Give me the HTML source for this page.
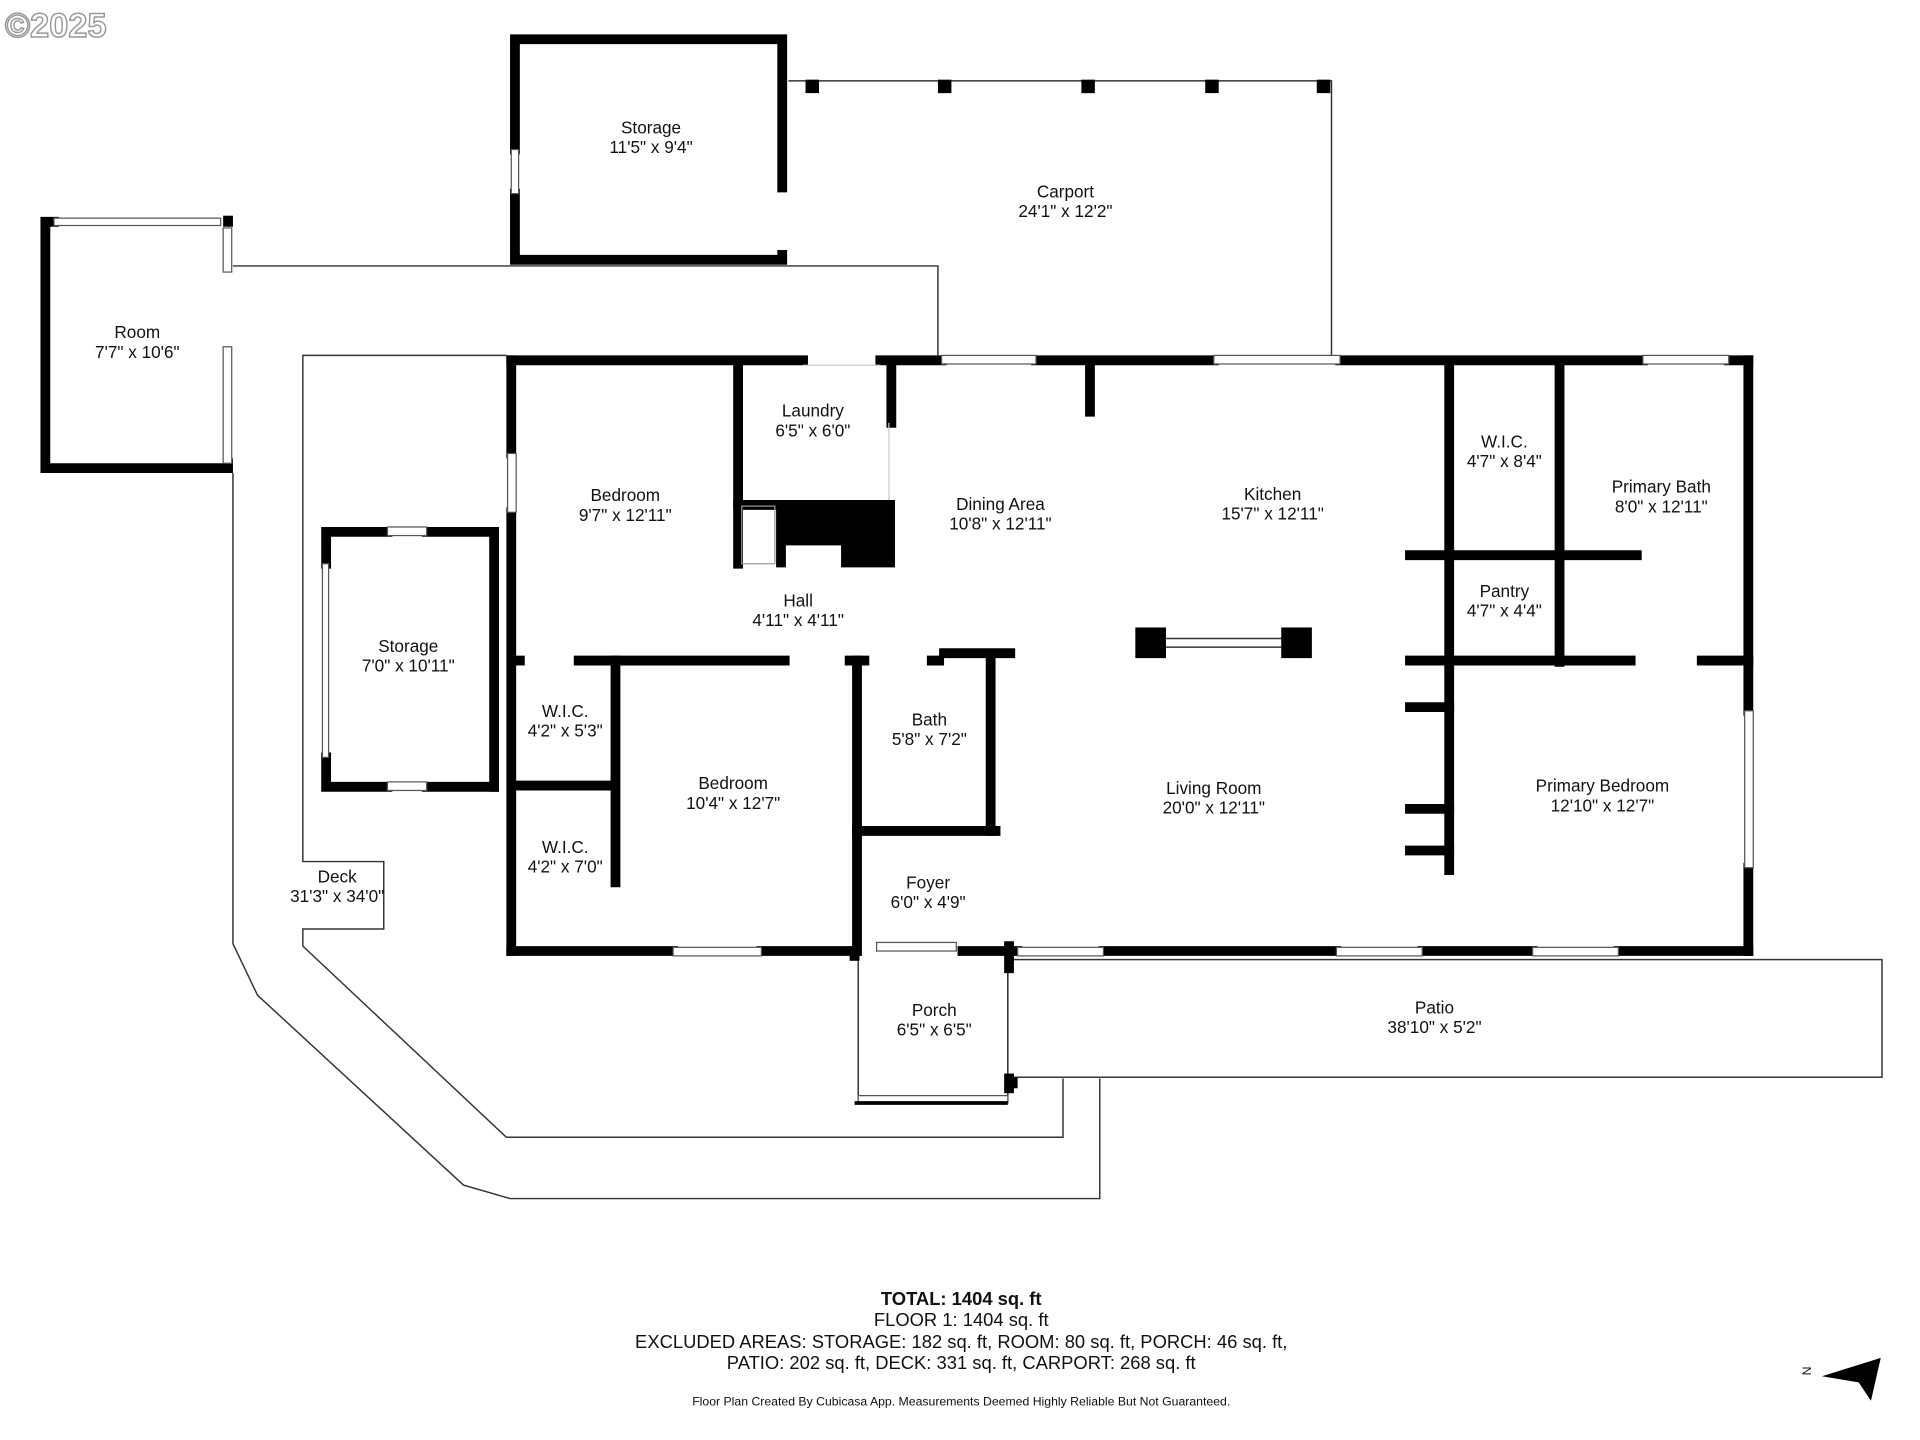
<!DOCTYPE html>
<html><head><meta charset="utf-8"><style>
html,body{margin:0;padding:0;background:#fff;}
svg{display:block;}
text{font-family:"Liberation Sans","DejaVu Sans",sans-serif;fill:#111;}
</style></head><body>
<svg width="1920" height="1440" viewBox="0 0 1566 1175" preserveAspectRatio="none" xmlns="http://www.w3.org/2000/svg">
<rect width="1566" height="1175" fill="#fff"/>
<text x="4" y="30" font-size="28" stroke="#999" stroke-width="1.2" font-weight="bold" style="fill:#fff">©2025</text>

<g fill="none" stroke="#333" stroke-width="1.2">
<polyline points="643,66 1086,66 1086,290"/>
<polyline points="190,217 765,217 765,290"/>
<polyline points="413,290 247,290 247,703 313,703 313,758 247,758 247,772 413,928 867,928 867,880"/>
<polyline points="190,386 190,770 210,812 378,967 416,978 897,978 897,880"/>
<rect x="822" y="783" width="713" height="96"/>
<polyline points="700,780 700,900"/>
<polyline points="822,780 822,900"/>
<line x1="951" y1="521" x2="1045" y2="521"/><line x1="951" y1="528" x2="1045" y2="528"/>
</g>
<g fill="#000">
<rect x="657" y="65" width="11" height="11"/><rect x="765" y="65" width="11" height="11"/><rect x="882" y="65" width="11" height="11"/><rect x="983" y="65" width="11" height="11"/><rect x="1074" y="65" width="11" height="11"/>
</g>

<g stroke="#000" stroke-width="8" fill="none" stroke-linecap="square">
<polyline points="638,153 638,32 420,32 420,122"/>
<polyline points="420,158 420,212 638,212 638,208"/>
<polyline points="44,181 37,181 37,382 186,382 186,378"/>
<line x1="186" y1="181" x2="186" y2="180"/>
<polyline points="266,460 266,434 316,434"/><line x1="348" y1="434" x2="403" y2="434"/>
<line x1="403" y1="434" x2="403" y2="642"/>
<polyline points="266,618 266,642 316,642"/><line x1="348" y1="642" x2="403" y2="642"/>
<line x1="417" y1="294" x2="655" y2="294"/>
<line x1="718" y1="294" x2="768" y2="294"/>
<line x1="845" y1="294" x2="990" y2="294"/>
<line x1="1093" y1="294" x2="1340" y2="294"/>
<line x1="1410" y1="294" x2="1426" y2="294"/>
<line x1="417" y1="294" x2="417" y2="370"/>
<line x1="417" y1="418" x2="417" y2="776"/>
<line x1="1426" y1="294" x2="1426" y2="580"/>
<line x1="1426" y1="708" x2="1426" y2="776"/>
<line x1="417" y1="776" x2="549" y2="776"/>
<line x1="621" y1="776" x2="697" y2="776"/>
<line x1="785" y1="776" x2="830" y2="776"/>
<line x1="900" y1="776" x2="1090" y2="776"/>
<line x1="1160" y1="776" x2="1250" y2="776"/>
<line x1="1320" y1="776" x2="1426" y2="776"/>
<line x1="602" y1="298" x2="602" y2="460"/>
<line x1="602" y1="412" x2="725" y2="412"/>
<line x1="727" y1="298" x2="727" y2="345"/>
<line x1="889" y1="298" x2="889" y2="336"/>
<line x1="420" y1="539" x2="424" y2="539"/>
<line x1="472" y1="539" x2="640" y2="539"/>
<line x1="693" y1="539" x2="705" y2="539"/>
<line x1="760" y1="539" x2="766" y2="539"/>
<line x1="770" y1="533" x2="824" y2="533"/>
<line x1="502" y1="539" x2="502" y2="720"/>
<line x1="420" y1="641" x2="500" y2="641"/>
<line x1="699" y1="539" x2="699" y2="776"/>
<line x1="808" y1="539" x2="808" y2="678"/>
<line x1="699" y1="678" x2="812" y2="678"/>
<line x1="1182" y1="298" x2="1182" y2="710"/>
<line x1="1150" y1="453" x2="1335" y2="453"/>
<line x1="1272" y1="298" x2="1272" y2="540"/>
<line x1="1150" y1="539" x2="1330" y2="539"/>
<line x1="1388" y1="539" x2="1426" y2="539"/>
<line x1="1150" y1="577" x2="1182" y2="577"/>
<line x1="1150" y1="660" x2="1182" y2="660"/>
<line x1="1150" y1="694" x2="1182" y2="694"/>
<line x1="697" y1="776" x2="697" y2="780"/>
<line x1="823" y1="772" x2="823" y2="790"/>
<line x1="823" y1="880" x2="823" y2="888"/>
</g>
<path d="M633,408 H730 V463 H686 V445 H641 V463 H633 Z" fill="#000"/>
<rect x="605" y="413" width="27" height="47" fill="none" stroke="#999" stroke-width="1"/>
<rect x="926" y="512" width="25" height="25" fill="#000"/>
<rect x="1045" y="512" width="25" height="25" fill="#000"/>
<g fill="#fff" stroke="#555" stroke-width="1">
<rect x="417" y="122" width="6" height="36"/>
<rect x="44" y="178" width="136" height="6"/>
<rect x="182" y="186" width="7" height="36"/>
<rect x="182" y="283" width="7" height="95"/>
<rect x="316" y="430" width="32" height="7"/>
<rect x="316" y="638" width="32" height="7"/>
<rect x="263" y="460" width="5" height="158"/>
<rect x="768" y="290" width="77" height="7"/>
<rect x="990" y="290" width="103" height="7"/>
<rect x="1340" y="290" width="70" height="7"/>
<rect x="414" y="370" width="7" height="48"/>
<rect x="1423" y="580" width="7" height="128"/>
<rect x="549" y="773" width="72" height="7"/>
<rect x="830" y="773" width="70" height="7"/>
<rect x="1090" y="773" width="70" height="7"/>
<rect x="1250" y="773" width="70" height="7"/>
<rect x="715" y="769" width="65" height="7"/>
<rect x="700" y="894" width="122" height="6"/>
</g>
<g stroke="#ccc" stroke-width="1">
<line x1="655" y1="298" x2="718" y2="298"/>
<line x1="725" y1="345" x2="725" y2="408"/>
</g>
<line x1="697" y1="900" x2="822" y2="900" stroke="#000" stroke-width="3"/>
<rect x="822" y="879" width="8" height="9" fill="#000"/>

<g font-size="14" text-anchor="middle">
<text x="531" y="109">Storage</text><text x="531" y="125">11'5" x 9'4"</text>
<text x="869" y="161">Carport</text><text x="869" y="177">24'1" x 12'2"</text>
<text x="112" y="276">Room</text><text x="112" y="292">7'7" x 10'6"</text>
<text x="663" y="340">Laundry</text><text x="663" y="356">6'5" x 6'0"</text>
<text x="510" y="409">Bedroom</text><text x="510" y="425">9'7" x 12'11"</text>
<text x="816" y="416">Dining Area</text><text x="816" y="432">10'8" x 12'11"</text>
<text x="1038" y="408">Kitchen</text><text x="1038" y="424">15'7" x 12'11"</text>
<text x="1227" y="365">W.I.C.</text><text x="1227" y="381">4'7" x 8'4"</text>
<text x="1355" y="402">Primary Bath</text><text x="1355" y="418">8'0" x 12'11"</text>
<text x="651" y="495">Hall</text><text x="651" y="511">4'11" x 4'11"</text>
<text x="1227" y="487">Pantry</text><text x="1227" y="503">4'7" x 4'4"</text>
<text x="333" y="532">Storage</text><text x="333" y="548">7'0" x 10'11"</text>
<text x="461" y="585">W.I.C.</text><text x="461" y="601">4'2" x 5'3"</text>
<text x="758" y="592">Bath</text><text x="758" y="608">5'8" x 7'2"</text>
<text x="598" y="644">Bedroom</text><text x="598" y="660">10'4" x 12'7"</text>
<text x="990" y="648">Living Room</text><text x="990" y="664">20'0" x 12'11"</text>
<text x="1307" y="646">Primary Bedroom</text><text x="1307" y="662">12'10" x 12'7"</text>
<text x="461" y="696">W.I.C.</text><text x="461" y="712">4'2" x 7'0"</text>
<text x="275" y="720">Deck</text><text x="275" y="736">31'3" x 34'0"</text>
<text x="757" y="725">Foyer</text><text x="757" y="741">6'0" x 4'9"</text>
<text x="762" y="829">Porch</text><text x="762" y="845">6'5" x 6'5"</text>
<text x="1170" y="827">Patio</text><text x="1170" y="843">38'10" x 5'2"</text>
<text x="784" y="1065" font-weight="bold" font-size="15">TOTAL: 1404 sq. ft</text>
<text x="784" y="1082" font-size="15">FLOOR 1: 1404 sq. ft</text>
<text x="784" y="1100" font-size="15">EXCLUDED AREAS: STORAGE: 182 sq. ft, ROOM: 80 sq. ft, PORCH: 46 sq. ft,</text>
<text x="784" y="1117" font-size="15">PATIO: 202 sq. ft, DECK: 331 sq. ft, CARPORT: 268 sq. ft</text>
<text x="784" y="1147" font-size="10">Floor Plan Created By Cubicasa App. Measurements Deemed Highly Reliable But Not Guaranteed.</text>
</g>
<text x="1469" y="1124" font-size="10" transform="rotate(90 1474 1120)">N</text>
<path d="M1486,1123 L1534,1108 L1526,1143 L1516,1128 Z" fill="#000"/>
</svg>
</body></html>
